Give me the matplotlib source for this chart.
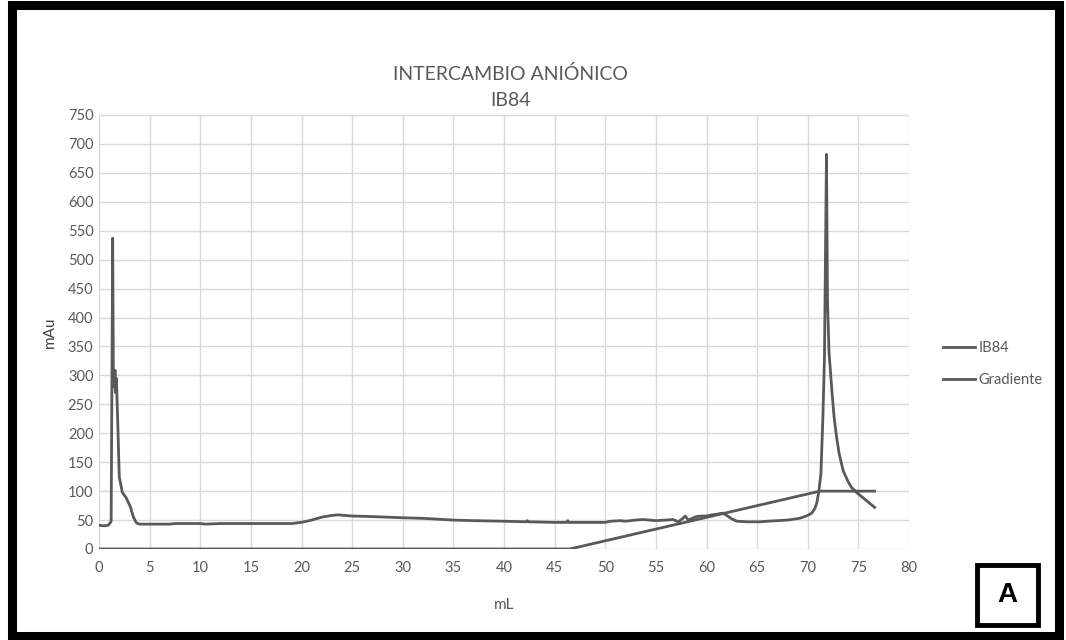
import matplotlib
matplotlib.use("Agg")
import matplotlib.pyplot as plt
from matplotlib.patches import Rectangle

# IB84 trace (mL, mAu)
ib84_ml = [0, 0.5, 0.9, 1.1, 1.2, 1.28, 1.35, 1.42, 1.5, 1.58, 1.65, 1.72, 1.85, 2.0, 2.3,
           2.7, 3.1, 3.4, 3.7, 4.0, 7, 7.5, 10, 10.5, 12, 19, 20, 21, 22, 23, 23.6, 25,
           27, 30, 32, 35, 37, 40, 42.2, 42.3, 42.4, 45, 46.2, 46.3, 46.4, 50, 50.5,
           51.5, 52, 53, 53.7, 55, 56, 56.7, 57.2, 57.6, 57.9, 58.2, 58.6, 59, 59.5, 60,
           60.5, 61, 61.6, 62, 62.5, 63, 64, 65.3, 66, 67, 68, 69.2, 70, 70.4, 70.7,
           70.9, 71.1, 71.3, 71.5, 71.65, 71.85, 71.95, 72.1, 72.4, 72.6, 72.85, 73.1,
           73.5, 74.0, 74.3, 74.8, 75.5, 76.6]
ib84_mau = [41, 40, 41, 45, 48, 300, 537, 300, 280, 309, 270, 295, 220, 125, 98,
            88, 73, 55, 45, 43, 43, 44, 44, 43, 44, 44, 46, 50, 55, 58, 59, 57,
            56, 54, 53, 50, 49, 48, 47, 49, 47, 46, 46, 49, 46, 46, 48,
            49, 48, 50, 51, 49, 50, 51, 47, 52, 57, 50, 53, 56, 57, 57,
            59, 60, 62, 58, 52, 48, 47, 47, 48, 49, 50, 53, 58, 62, 70,
            80, 100, 130, 230, 330, 682, 430, 340, 270, 228, 193, 165,
            135, 116, 107, 98, 88, 72]

# salt gradient (mL, %)
grad_ml = [0, 46.5, 71.2, 76.6]
grad_pct = [0, 0, 100, 100]

line_col = "#595959"
text_col = "#595959"
plt.rcParams['font.family'] = ['Lato', 'DejaVu Sans']

fig = plt.figure(figsize=(10.66, 6.4), dpi=100)
ax = fig.add_axes([99 / 1066, 1 - 549 / 640, (909 - 99) / 1066, (549 - 115) / 640])

l1, = ax.plot(ib84_ml, ib84_mau, color=line_col, lw=2.0, label="IB84")
l2, = ax.plot(grad_ml, grad_pct, color=line_col, lw=2.0, label="Gradiente")

ax.set_xlim(0, 80)
ax.set_ylim(0, 750)
ax.set_xticks(range(0, 81, 5))
ax.set_yticks(range(0, 751, 50))
ax.grid(True, color="#d9d9d9", lw=1)
ax.set_axisbelow(True)
for s in ax.spines.values():
    s.set_visible(False)
ax.tick_params(length=0, labelsize=10.5, colors=text_col)
ax.tick_params(axis="y", pad=4)
ax.tick_params(axis="x", pad=9)

ax.set_xlabel("mL", fontsize=11, color=text_col, labelpad=16)
ax.set_ylabel("mAu", fontsize=11, color="#404040", labelpad=8)

fig.text(510 / 1066, 1 - 74 / 640, "INTERCAMBIO ANIÓNICO", ha="center", va="center",
         fontsize=14, color=text_col)
fig.text(510 / 1066, 1 - 100 / 640, "IB84", ha="center", va="center",
         fontsize=14, color=text_col)

fig.legend(handles=[l1, l2], loc="center left", bbox_to_anchor=(930 / 1066, 1 - 364 / 640),
           frameon=False, fontsize=10.5, labelcolor=text_col, handlelength=2.2,
           handletextpad=0.2, labelspacing=1.2)

# outer black frame
fig.patches.append(Rectangle((12 / 1066, 4 / 640), 1047 / 1066, 631 / 640,
                             transform=fig.transFigure, fill=False, ec="black", lw=6.5))
# panel letter box
fig.patches.append(Rectangle((976.5 / 1066, 1 - 624.5 / 640), 61 / 1066, 60 / 640,
                             transform=fig.transFigure, fill=False, ec="black", lw=3.5))
fig.text(1007 / 1066, 1 - 595 / 640, "A", ha="center", va="center", fontsize=20,
         fontweight="bold", family=["Liberation Sans", "DejaVu Sans"], color="black")

fig.savefig("out.png", dpi=100, facecolor="white")
